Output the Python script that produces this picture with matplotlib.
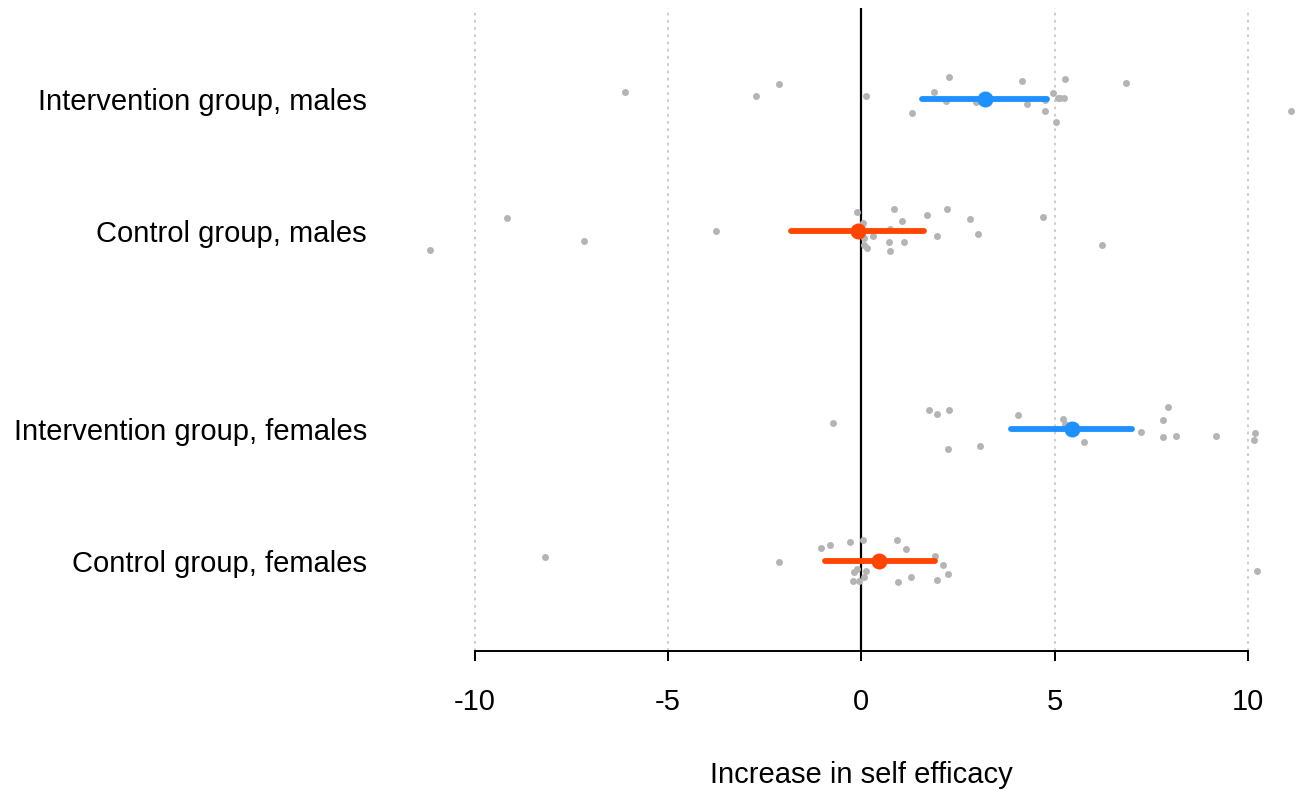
import matplotlib
matplotlib.use("Agg")
import matplotlib.pyplot as plt

plt.rcParams['font.family'] = ['Liberation Sans', 'DejaVu Sans']
plt.rcParams['axes.unicode_minus'] = False

groups = ["Intervention group, males", "Control group, males",
          "Intervention group, females", "Control group, females"]
row_pos = [5.0, 4.0, 2.5, 1.5]
means = [3.2, -0.09, 5.44, 0.46]
ci_low = [1.57, -1.81, 3.86, -0.94]
ci_high = [4.81, 1.63, 7.0, 1.90]
colors = ["#1E90FF", "#FF4500", "#1E90FF", "#FF4500"]

im_x = [-6.11, -2.13, -2.72, 0.13, 1.30, 1.87, 2.19, 2.27, 2.96, 4.15, 4.28,
        4.74, 4.74, 4.96, 5.05, 5.08, 5.14, 5.24, 5.27, 6.84, 11.13]
im_j = [0.051, 0.116, 0.025, 0.025, -0.108, 0.055, -0.013, 0.167, -0.020, 0.134, -0.038,
        -0.089, -0.008, 0.043, -0.172, 0.005, 0.005, 0.005, 0.154, 0.121, -0.089]

cm_x = [-11.16, -9.16, -7.19, -3.75, -0.12, 0.04, 0.06, 0.06, 0.14, 0.29, 0.71, 0.74,
        0.75, 0.84, 1.06, 1.10, 1.71, 1.95, 2.22, 2.80, 3.02, 4.71, 6.24]
cm_j = [-0.142, 0.101, -0.073, -0.002, 0.144, 0.063, -0.053, -0.106, -0.127, -0.038, -0.081,
        -0.152, 0.013, 0.167, 0.076, -0.083, 0.123, -0.038, 0.164, 0.089, -0.025, 0.106, -0.104]

if_x = [-0.74, 1.76, 1.96, 2.26, 2.25, 3.06, 4.05, 5.22, 5.27, 5.76, 7.24, 7.81,
        7.81, 7.93, 8.15, 9.19, 10.19, 10.15]
if_j = [0.045, 0.144, 0.114, 0.144, -0.152, -0.129, 0.106, 0.073, 0.040, -0.096, -0.020, 0.066,
        -0.063, 0.164, -0.055, -0.053, -0.030, -0.083]

cf_x = [-8.18, -2.13, -1.04, -0.81, -0.29, 0.05, -0.19, -0.11, -0.21, -0.06, 0.06, 0.11,
        0.91, 1.15, 0.95, 1.29, 1.90, 2.11, 1.97, 2.23, 10.25]
cf_j = [0.033, -0.005, 0.098, 0.121, 0.142, 0.157, -0.086, -0.058, -0.149, -0.149, -0.119, -0.078,
        0.161, 0.089, -0.161, -0.123, 0.040, -0.030, -0.142, -0.101, -0.076]

points_x = [im_x, cm_x, if_x, cf_x]
points_j = [im_j, cm_j, if_j, cf_j]

xticks = [-10, -5, 0, 5, 10]
xlabel = "Increase in self efficacy"

fig = plt.figure(figsize=(12.98, 7.92), dpi=100)
ax = fig.add_axes([417 / 1298, (792 - 651) / 792, (1298 - 417) / 1298, (651 - 8) / 792])
ax.set_xlim(-11.5, 11.3)
ax.set_ylim(0.818, 5.689)

for t in xticks:
    if t == 0:
        ax.axvline(t, color="black", lw=1.6, zorder=1)
    else:
        ax.axvline(t, color="#C8C8C8", lw=1.3, ls=(0, (1.5, 2.5)), zorder=0)

for pos, px, pj, m, lo, hi, c in zip(row_pos, points_x, points_j, means, ci_low, ci_high, colors):
    ax.plot(px, [pos + j for j in pj], 'o', ms=5, color="#B4B4B4", mec="none", zorder=2)
    ax.plot([lo, hi], [pos, pos], color=c, lw=4.2, solid_capstyle='round', zorder=3)
    ax.plot([m], [pos], 'o', ms=11.5, color=c, mec="none", zorder=4)

for s in ["top", "right", "left"]:
    ax.spines[s].set_visible(False)
ax.spines["bottom"].set_bounds(-10, 10)
ax.spines["bottom"].set_linewidth(1.4)
ax.set_xticks(xticks)
ax.set_xticklabels([str(t) for t in xticks])
ax.tick_params(axis='x', length=7.5, width=1.4, pad=19, labelsize=21)
ax.set_yticks(row_pos)
ax.set_yticklabels(groups)
ax.tick_params(axis='y', length=0, pad=36, labelsize=21)

fig.text(861.5 / 1298, 1 - 775 / 792, xlabel, ha="center", va="center", fontsize=21)

fig.savefig("out.png", dpi=100)
